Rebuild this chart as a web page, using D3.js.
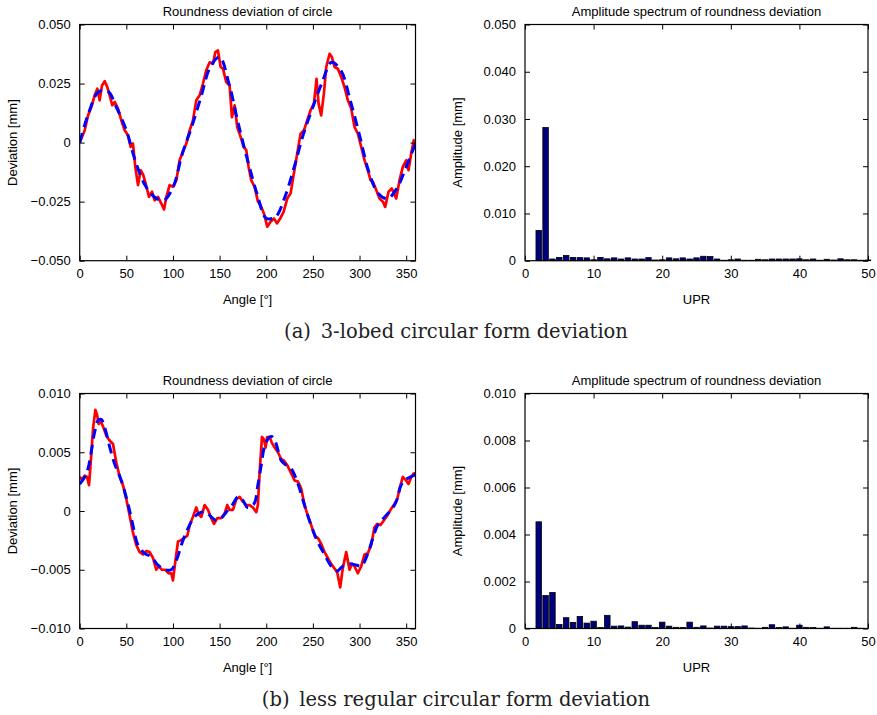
<!DOCTYPE html>
<html>
<head>
<meta charset="utf-8">
<script src="https://cdn.jsdelivr.net/npm/d3@7"></script>
<style>
  html, body { margin: 0; padding: 0; background: #fff; }
  svg { display: block; }
  .tick text { font-family: "Liberation Sans", Arial, Helvetica, sans-serif; font-size: 13px; fill: #000; }
  .lbl { font-family: "Liberation Sans", Arial, Helvetica, sans-serif; font-size: 13px; fill: #000; }
  .cap { font-family: "DejaVu Serif", "Liberation Serif", serif; font-size: 19.5px; fill: #222; }
</style>
</head>
<body>
<svg id="fig" width="877" height="715"></svg>
<script>
// ---- (a) 3-lobed circle: measured profile (red) and fitted profile (blue) ----
const anglesA = [0,5.4,8.9,12.5,16.1,18.9,21.4,23.9,26.8,29.6,32.1,35,37.5,41.1,44.6,48.2,51.8,54.6,57.1,59.6,62.5,65.4,68.2,70.7,74.3,77.5,80.4,83.9,87.5,90.4,92.9,96.4,100,103.6,107.1,110.7,114.3,117.9,121.4,125,128.6,132.1,135.7,139.3,142.9,145.4,148.2,151.1,153.6,157.1,160.7,163.2,166.1,168.9,172.5,175.7,178.6,181.1,183.9,187.5,191.1,193.9,197.5,201.1,204.6,208.2,211.4,215,218.6,222.5,226.1,229.6,233.2,236.8,240.4,243.9,247.5,251.1,253.9,256.1,258.9,261.8,264.3,267.9,270.4,273.2,276.8,280.4,283.9,287.5,291.1,294.6,298.2,301.8,305.4,308.9,311.8,314.3,317.9,321.4,325,327.5,331.1,334.6,339.3,342.9,346.4,350,352.5,355.4,358.2,360];
const measuredA = [0,0.0052,0.0115,0.0151,0.0200,0.0228,0.0179,0.0242,0.0260,0.0235,0.0200,0.0158,0.0172,0.0144,0.0094,0.0052,0.0031,-0.0018,-0.0004,-0.0103,-0.0180,-0.0117,-0.0138,-0.0173,-0.0230,-0.0208,-0.0244,-0.0230,-0.0258,-0.0283,-0.0230,-0.0180,-0.0187,-0.0159,-0.0075,-0.0039,-0.0004,0.0052,0.0094,0.0179,0.0200,0.0249,0.0306,0.0340,0.0334,0.0383,0.0390,0.0320,0.0313,0.0256,0.0242,0.0108,0.0158,0.0066,0.0024,-0.0018,-0.0032,-0.0103,-0.0159,-0.0187,-0.0250,-0.0265,-0.0300,-0.0356,-0.0335,-0.0321,-0.0342,-0.0321,-0.0293,-0.0237,-0.0215,-0.0131,-0.0046,0.0038,0.0052,0.0094,0.0137,0.0165,0.0270,0.0165,0.0115,0.0207,0.0320,0.0376,0.0362,0.0320,0.0313,0.0277,0.0235,0.0179,0.0144,0.0066,0.0038,-0.0018,-0.0075,-0.0117,-0.0159,-0.0166,-0.0201,-0.0237,-0.0250,-0.0272,-0.0208,-0.0194,-0.0237,-0.0159,-0.0103,-0.0075,-0.0117,-0.0046,0.0010,-0.0004];
const fitAnglesA = [0,10,20,30,40,50,60,70,80,90,100,110,120,130,140,150,160,170,180,190,200,210,220,230,240,250,260,270,280,290,300,310,320,330,340,350,360];
const fittedA = [0,0.0130,0.0214,0.0218,0.0144,0.0052,-0.0082,-0.0180,-0.0230,-0.0244,-0.0190,-0.0047,0.0066,0.0193,0.0320,0.0362,0.0250,0.0080,-0.0075,-0.0215,-0.0320,-0.0314,-0.0230,-0.0103,0.0038,0.0151,0.0256,0.0340,0.0306,0.0179,0.0031,-0.0124,-0.0215,-0.0237,-0.0194,-0.0103,-0.0004];

// ---- (a) amplitude spectrum, UPR 1..50 ----
const upr = d3.range(1, 51);
const spectrumA = [0,0.0064,0.0282,0.00036,0.0007,0.0011,0.0007,0.00065,0.0006,0.0002,0.0007,0.0004,0.0006,0.00036,0.0006,0.00036,0.00036,0.00065,0.00015,0.0002,0.0006,0.0004,0.0006,0.00036,0.0006,0.00094,0.00087,0.00036,0.0001,0.0002,0.00036,0.0001,0.0001,0.0003,0.0002,0.00036,0.00036,0.00036,0.00036,0.0004,0.0002,0.00036,0.0001,0.0003,0.00015,0.0004,0.0002,0.0002,0.0001,0.00015];

// ---- (b) less regular circle: measured profile (red) and fitted profile (blue) ----
const anglesB = [0,2.5,5.4,7.9,10,11.8,14.3,16.8,18.6,20.4,22.1,25,28.6,32,35.7,39.3,42.9,46.4,50,53.6,57,60.7,64.3,67.9,71.4,75,78.6,82,85,88,91.8,95.4,98.2,100,102.5,105.4,108.2,111.8,115.4,117.9,121.4,125,127.5,130.4,133.9,137.5,140.4,144,147.5,151.8,155.4,158.2,160.7,164.3,167.9,171.4,175,178.6,182,185.7,189.3,191,192.9,195.4,197.5,199.3,201,203.6,206,209,212.5,216,218.9,222.5,226.8,230.4,234,237.5,241,244.6,248.2,251.8,255.4,258.9,262.5,266,269.6,273.2,276,279.3,282,285.7,289.3,291.8,294.6,298.2,301.8,305.4,308.9,312.5,316,319,322.5,326,329.6,334,337.5,340.4,342.9,346.4,350,352.5,355.4,358.2,360];
const measuredB = [0.0029,0.0027,0.0030,0.0029,0.0022,0.0041,0.0070,0.0086,0.0082,0.0074,0.0077,0.0072,0.0064,0.0060,0.0057,0.0041,0.0029,0.0022,0.0010,-0.0004,-0.0018,-0.0029,-0.0035,-0.0037,-0.0034,-0.0035,-0.0040,-0.0050,-0.0047,-0.0050,-0.0050,-0.0053,-0.0053,-0.0059,-0.0043,-0.0026,-0.0025,-0.0023,-0.0021,-0.0012,-0.0005,0.0003,-0.0003,-0.0005,0.0005,0.0001,-0.0005,-0.0011,-0.0006,-0.0006,-0.0002,0.0005,0.0001,0.0001,0.0010,0.0012,0.0008,0.0005,0.0005,0.0003,-0.0001,0.0005,0.0033,0.0063,0.0061,0.0054,0.0063,0.0063,0.0058,0.0054,0.0050,0.0044,0.0043,0.0039,0.0032,0.0026,0.0025,0.0019,0.0005,-0.0004,-0.0012,-0.0021,-0.0023,-0.0028,-0.0035,-0.0040,-0.0045,-0.0049,-0.0052,-0.0065,-0.0049,-0.0035,-0.0050,-0.0045,-0.0047,-0.0053,-0.0047,-0.0037,-0.0036,-0.0029,-0.0014,-0.0011,-0.0012,-0.0008,-0.0004,0.0002,0.0006,0.0010,0.0019,0.0029,0.0026,0.0023,0.0029,0.0032,0.0032];
const fitAnglesB = [0,5.4,8.9,12.5,16,19.6,23,26.8,32,37.5,44.6,51.8,57,62.5,69.6,76.8,83.9,91.8,98.2,103.6,110.7,116,123,130.4,135.7,141,146.4,151.8,157,164.3,169.6,175,180,186.8,191,194.6,198.2,203.6,207,210.7,216,221.4,226.8,234,241,248,255,262.5,269.6,276,282,289,296.4,301.8,309,314.3,319.6,327,334,339.3,344.6,350,355,360];
const fittedB = [0.0023,0.0029,0.0036,0.0051,0.0067,0.0077,0.0078,0.0071,0.0055,0.0040,0.0026,0.0006,-0.0012,-0.0029,-0.0036,-0.0039,-0.0046,-0.0050,-0.0050,-0.0042,-0.0025,-0.0015,-0.0005,-0.0001,-0.0001,-0.0005,-0.0008,-0.0006,-0.0001,0.0006,0.0012,0.0009,0.0003,0.0006,0.0022,0.0039,0.0055,0.0063,0.0063,0.0057,0.0043,0.0039,0.0036,0.0023,0.0005,-0.0012,-0.0026,-0.0037,-0.0047,-0.0051,-0.0047,-0.0045,-0.0046,-0.0047,-0.0036,-0.0023,-0.0012,-0.0005,0.0001,0.0008,0.0022,0.0027,0.0029,0.0031];

// ---- (b) amplitude spectrum, UPR 1..50 ----
const spectrumB = [0,0.00454,0.0014,0.00153,0.00017,0.00046,0.00026,0.00051,0.00023,0.00031,0.00004,0.00056,0.0001,0.00011,0.00006,0.00029,0.00014,0.00014,0.00004,0.00027,0.0001,0.00005,0.00004,0.00027,0.00005,0.00011,0.00002,0.0001,0.0001,0.00008,0.00008,0.00011,0.00002,0.00001,0.00005,0.00016,0.00004,0.00007,0.00001,0.00014,0.00005,0.00004,0.00001,0.00007,0.00001,0.00001,0.00001,0.00005,0.00001,0];

// ---- tick values and labels ----
const angleTicks = [0, 50, 100, 150, 200, 250, 300, 350];
const uprTicks = [0, 10, 20, 30, 40, 50];
const devTicksA = [-0.05, -0.025, 0, 0.025, 0.05];
const devLabelsA = ["\u22120.050", "\u22120.025", "0", "0.025", "0.050"];
const ampTicksA = [0, 0.01, 0.02, 0.03, 0.04, 0.05];
const ampLabelsA = ["0", "0.010", "0.020", "0.030", "0.040", "0.050"];
const devTicksB = [-0.01, -0.005, 0, 0.005, 0.01];
const devLabelsB = ["\u22120.010", "\u22120.005", "0", "0.005", "0.010"];
const ampTicksB = [0, 0.002, 0.004, 0.006, 0.008, 0.01];
const ampLabelsB = ["0", "0.002", "0.004", "0.006", "0.008", "0.010"];

const svg = d3.select("#fig");
const TICK = 5;

// Boxed frame with inward ticks on all four sides, labels on left and bottom.
function frame(g, x, y, xTicks, yTicks, yLabels, title, xTitle, yTitle) {
  const [x0, x1] = x.range();
  const [y1, y0] = y.range();
  g.append("g").attr("transform", `translate(0,${y1})`)
    .call(d3.axisBottom(x).tickValues(xTicks).tickSizeInner(-TICK).tickSizeOuter(0).tickPadding(8));
  g.append("g").attr("transform", `translate(0,${y0})`)
    .call(d3.axisTop(x).tickValues(xTicks).tickSizeInner(-TICK).tickSizeOuter(0).tickFormat(""));
  g.append("g").attr("transform", `translate(${x0},0)`)
    .call(d3.axisLeft(y).tickValues(yTicks).tickFormat((d, i) => yLabels[i]).tickSizeInner(-TICK).tickSizeOuter(0).tickPadding(9));
  g.append("g").attr("transform", `translate(${x1},0)`)
    .call(d3.axisRight(y).tickValues(yTicks).tickSizeInner(-TICK).tickSizeOuter(0).tickFormat(""));
  g.selectAll(".domain").remove();
  g.selectAll(".tick line").attr("stroke", "#000").attr("stroke-width", 1);
  g.append("rect").attr("x", x0).attr("y", y0).attr("width", x1 - x0).attr("height", y1 - y0)
    .attr("fill", "none").attr("stroke", "#000").attr("stroke-width", 1.2);
  const cx = (x0 + x1) / 2, cy = (y0 + y1) / 2;
  g.append("text").attr("class", "lbl").attr("x", cx).attr("y", y0 - 9).attr("text-anchor", "middle").text(title);
  g.append("text").attr("class", "lbl").attr("x", cx).attr("y", y1 + 43).attr("text-anchor", "middle").text(xTitle);
  g.append("text").attr("class", "lbl").attr("text-anchor", "middle")
    .attr("transform", `translate(${x0 - 63},${cy}) rotate(-90)`).text(yTitle);
}

function profilePanel(top, bottom, angles, measured, fitAngles, fitted, yTicks, yLabels) {
  const x = d3.scaleLinear().domain([0, 360]).range([79.7, 415.5]);
  const y = d3.scaleLinear().domain([yTicks[0], yTicks[yTicks.length - 1]]).range([bottom, top]);
  const g = svg.append("g");
  const clipId = "clip" + Math.round(top);
  g.append("clipPath").attr("id", clipId).append("rect")
    .attr("x", 80).attr("y", top).attr("width", 335.5).attr("height", bottom - top);
  const rawLine = d3.line().x(d => x(d[0])).y(d => y(d[1]));
  const smoothLine = d3.line().x(d => x(d[0])).y(d => y(d[1])).curve(d3.curveCatmullRom.alpha(0.5));
  const plot = g.append("g").attr("clip-path", `url(#${clipId})`);
  plot.append("path").datum(d3.zip(angles, measured)).attr("d", rawLine)
    .attr("fill", "none").attr("stroke", "#ff0000").attr("stroke-width", 2.7).attr("stroke-linejoin", "round");
  plot.append("path").datum(d3.zip(fitAngles, fitted)).attr("d", smoothLine)
    .attr("fill", "none").attr("stroke", "#0000ff").attr("stroke-width", 3).attr("stroke-dasharray", "10,6");
  frame(g, x, y, angleTicks, yTicks, yLabels, "Roundness deviation of circle", "Angle [\u00b0]", "Deviation [mm]");
}

function spectrumPanel(top, bottom, values, yTicks, yLabels) {
  const x = d3.scaleLinear().domain([0, 50]).range([525, 868]);
  const y = d3.scaleLinear().domain([0, yTicks[yTicks.length - 1]]).range([bottom, top]);
  const g = svg.append("g");
  const bw = (x(1) - x(0)) * 0.8;
  g.append("g").selectAll("rect").data(d3.zip(upr, values).filter(d => d[1] > 0)).join("rect")
    .attr("x", d => x(d[0]) - bw / 2).attr("width", bw)
    .attr("y", d => y(d[1])).attr("height", d => y(0) - y(d[1]))
    .attr("fill", "#00007f").attr("stroke", "#000").attr("stroke-width", 0.8);
  frame(g, x, y, uprTicks, yTicks, yLabels, "Amplitude spectrum of roundness deviation", "UPR", "Amplitude [mm]");
}

profilePanel(24.5, 260.7, anglesA, measuredA, fitAnglesA, fittedA, devTicksA, devLabelsA);
spectrumPanel(24.5, 260.7, spectrumA, ampTicksA, ampLabelsA);
profilePanel(393.5, 628.5, anglesB, measuredB, fitAnglesB, fittedB, devTicksB, devLabelsB);
spectrumPanel(393.5, 628.5, spectrumB, ampTicksB, ampLabelsB);

svg.append("text").attr("class", "cap").attr("x", 456).attr("y", 338).attr("text-anchor", "middle")
  .text("(a)\u20023-lobed circular form deviation");
svg.append("text").attr("class", "cap").attr("x", 456).attr("y", 706).attr("text-anchor", "middle")
  .text("(b)\u2002less regular circular form deviation");
</script>
</body>
</html>
